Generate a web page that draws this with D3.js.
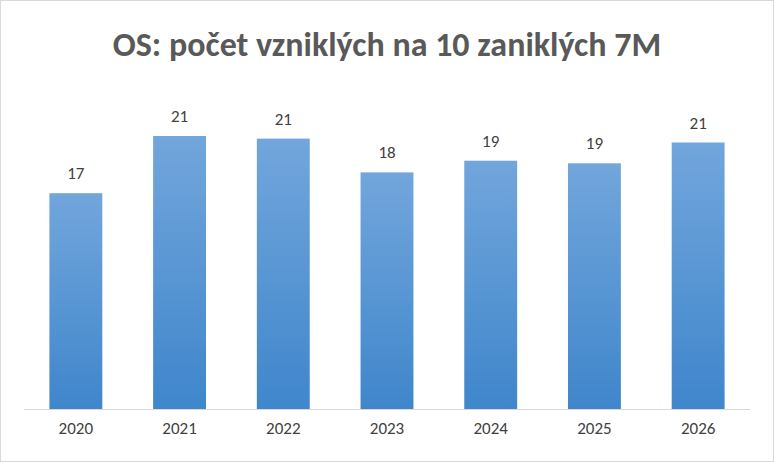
<!DOCTYPE html>
<html><head><meta charset="utf-8">
<script src="https://cdn.jsdelivr.net/npm/d3@7"></script>
<style>body{margin:0;background:#fff}</style></head>
<body><svg id="c" width="774" height="462"></svg>
<script>
const categories = ["2020","2021","2022","2023","2024","2025","2026"];
const values = [16.6, 21.0, 20.8, 18.2, 19.1, 18.9, 20.5];
const labels = ["17","21","21","18","19","19","21"];

const svg = d3.select("#c");
svg.append("rect").attr("x",0.5).attr("y",0.5).attr("width",773).attr("height",461)
  .attr("fill","#fff").attr("stroke","#d9d9d9");
const defs = svg.append("defs");
const g = defs.append("linearGradient").attr("id","bg").attr("x1",0).attr("y1",0).attr("x2",0).attr("y2",1);
g.append("stop").attr("offset","0%").attr("stop-color","#72a6dc");
g.append("stop").attr("offset","100%").attr("stop-color","#3f86cb");

const x = d3.scaleBand().domain(categories).range([24,750]).paddingInner(0.49).paddingOuter(0.245);
const y = d3.scaleLinear().domain([0,25]).range([409,84]);

svg.append("text").attr("x",387).attr("y",56).attr("text-anchor","middle")
  .attr("font-family","Carlito, 'Open Sans', sans-serif").attr("font-weight","bold")
  .attr("font-size",34).attr("fill","#595959").text("OS: počet vzniklých na 10 zaniklých 7M");

svg.selectAll(".bar").data(values).enter().append("rect")
  .attr("x",(d,i)=>x(categories[i])).attr("width",x.bandwidth())
  .attr("y",d=>y(d)).attr("height",d=>y(0)-y(d)).attr("fill","url(#bg)");

svg.selectAll(".lab").data(values).enter().append("text")
  .attr("x",(d,i)=>x(categories[i])+x.bandwidth()/2).attr("y",d=>y(d)-14)
  .attr("text-anchor","middle").attr("font-family","Carlito, 'Open Sans', sans-serif")
  .attr("font-size",17).attr("fill","#404040").text((d,i)=>labels[i]);

const ax = svg.append("g").attr("transform","translate(0,409)")
  .call(d3.axisBottom(x).tickSize(0).tickPadding(13));
ax.select(".domain").attr("stroke","#d9d9d9").attr("d","M24,0.5H750");
ax.selectAll("text").attr("font-family","Carlito, 'Open Sans', sans-serif").attr("font-size",17).attr("fill","#404040");
</script></body></html>
